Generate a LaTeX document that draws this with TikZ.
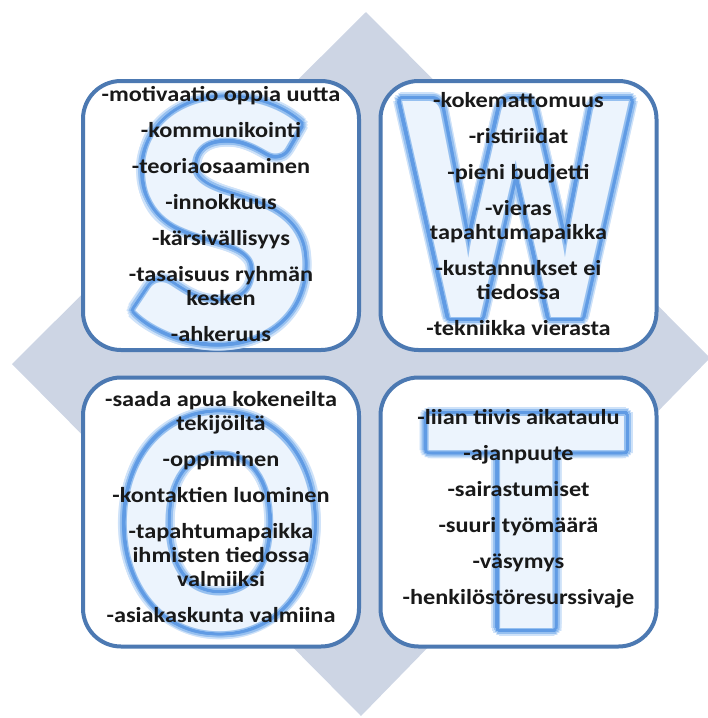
\documentclass[tikz,border=0pt]{standalone}
\usepackage{fontspec}
\usepackage{graphicx}
\newfontfamily\swotfont{Carlito}[FakeStretch=1.13]
\newfontfamily\letterfont{Carlito}
\usetikzlibrary{calc}
\definecolor{diamondblue}{RGB}{205,213,228}
\definecolor{boxblue}{RGB}{76,121,178}
\definecolor{glowdark}{RGB}{96,155,228}
\definecolor{glowlight}{RGB}{150,192,240}
\definecolor{glowpale}{RGB}{206,226,249}
\definecolor{glowcore}{RGB}{236,244,253}
\begin{document}
\begin{tikzpicture}[x=1pt,y=-1pt,
	swotbox/.style={draw=boxblue,line width=4pt,fill=white,rounded corners=38pt,
		minimum width=276pt,minimum height=269pt,inner sep=0pt},
	bigletter/.style={inner sep=0pt,font=\letterfont\bfseries},
	itemlist/.style={align=center,inner sep=0pt,text=black!90,
		font=\swotfont\bfseries\fontsize{21.5}{24}\selectfont}]
	
	\useasboundingbox (0,0) rectangle (708,718);
	
	\coordinate (top)    at (366,12);
	\coordinate (right)  at (710,358);
	\coordinate (bottom) at (361,716);
	\coordinate (left)   at (12,364);
	\fill[diamondblue] (top) -- (right) -- (bottom) -- (left) -- cycle;
	
	\node[swotbox] (Sbox) at (221,215.5) {};
	\node[swotbox] (Wbox) at (518.5,215.5) {};
	\node[swotbox] (Obox) at (221,512) {};
	\node[swotbox] (Tbox) at (518.5,512) {};
	
	\foreach \l/\x/\y/\w/\h in {S/222/221/186/239, W/516/209/229/216, O/220/523/198/214, T/527/522/202/212}{
		\coordinate (c) at (\x,\y);
		\foreach \r/\col in {9/glowpale,7/glowlight,5/glowdark,3/glowdark,1.5/glowlight}
			\foreach \a in {0,20,...,340}
				\node[bigletter,text=\col] at ($(c)+(\a:\r)$) {\resizebox{\w pt}{\h pt}{\l}};
		\node[bigletter,text=glowcore] at (c) {\resizebox{\w pt}{\h pt}{\l}};
	}
	
	\node[itemlist] (Stext) at ([yshift=1pt]Sbox.center) {-motivaatio oppia uutta\\[12pt]-kommunikointi\\[12pt]-teoriaosaaminen\\[12pt]-innokkuus\\[12pt]-kärsivällisyys\\[12pt]-tasaisuus ryhmän\\kesken\\[12pt]-ahkeruus};
	\node[itemlist] (Wtext) at ([yshift=1pt]Wbox.center) {-kokemattomuus\\[12pt]-ristiriidat\\[12pt]-pieni budjetti\\[12pt]-vieras\\tapahtumapaikka\\[12pt]-kustannukset ei\\tiedossa\\[12pt]-tekniikka vierasta};
	\node[itemlist] (Otext) at ([yshift=5pt]Obox.center) {-saada apua kokeneilta\\tekijöiltä\\[12pt]-oppiminen\\[12pt]-kontaktien luominen\\[12pt]-tapahtumapaikka\\ihmisten tiedossa\\valmiiksi\\[12pt]-asiakaskunta valmiina};
	\node[itemlist] (Ttext) at ([yshift=3pt]Tbox.center) {-liian tiivis aikataulu\\[12pt]-ajanpuute\\[12pt]-sairastumiset\\[12pt]-suuri työmäärä\\[12pt]-väsymys\\[12pt]-henkilöstöresurssivaje};
	
\end{tikzpicture}
\end{document}
